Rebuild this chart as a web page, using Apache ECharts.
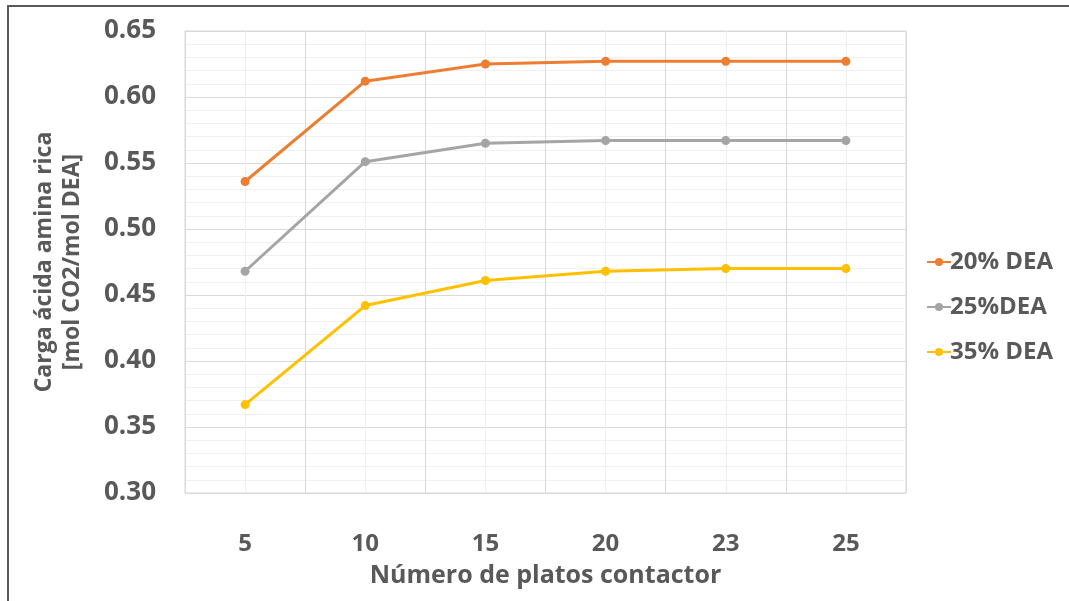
<!DOCTYPE html>
<html>
<head>
<meta charset="utf-8">
<script src="https://cdn.jsdelivr.net/npm/echarts@6/dist/echarts.min.js"></script>
<style>
  html, body { margin: 0; padding: 0; background: #ffffff; }
  #chart { width: 1069px; height: 601px; }
</style>
</head>
<body>
<div id="chart"></div>
<script>
// Number of contactor trays
const platos = ['5', '10', '15', '20', '23', '25'];

// Rich amine acid loading [mol CO2/mol DEA] per DEA concentration
const dea20 = [0.536, 0.612, 0.625, 0.627, 0.627, 0.627];
const dea25 = [0.468, 0.551, 0.565, 0.567, 0.567, 0.567];
const dea35 = [0.367, 0.442, 0.461, 0.468, 0.470, 0.470];

const seriesNames = ['20% DEA', '25%DEA', '35% DEA'];
const seriesColors = ['#ED7D31', '#A5A5A5', '#FFC000'];

const textColor = '#595959';
const fontFamily = '"Open Sans", "Noto Sans", sans-serif';

const chart = echarts.init(document.getElementById('chart'), null, { renderer: 'canvas' });

function lineSeries(name, data, color) {
  return {
    name: name,
    type: 'line',
    xAxisIndex: 0,
    yAxisIndex: 0,
    data: data,
    symbol: 'circle',
    symbolSize: 9,
    lineStyle: { color: color, width: 3 },
    itemStyle: { color: color },
    emphasis: { disabled: true },
    animation: false,
    z: 3
  };
}

chart.setOption({
  backgroundColor: '#ffffff',
  animation: false,
  textStyle: { fontFamily: fontFamily, color: textColor },
  graphic: [
    {
      type: 'rect',
      shape: { x: 8, y: 6, width: 1200, height: 800 },
      style: { fill: 'none', stroke: '#595959', lineWidth: 2 },
      silent: true,
      z: 0
    }
  ],
  grid: {
    left: 185,
    right: 163,
    top: 31,
    bottom: 108,
    show: true,
    borderColor: '#d9d9d9',
    borderWidth: 1,
    backgroundColor: 'transparent'
  },
  legend: {
    orient: 'vertical',
    left: 921,
    top: 244,
    itemGap: 19,
    itemWidth: 24,
    itemHeight: 10,
    data: seriesNames,
    textStyle: {
      fontFamily: fontFamily,
      fontSize: 24,
      fontWeight: 'bold',
      lineHeight: 26,
      color: textColor,
      padding: [0, 0, 0, -6]
    }
  },
  xAxis: [
    {
      type: 'category',
      data: platos,
      boundaryGap: true,
      name: 'Número de platos contactor',
      nameLocation: 'middle',
      nameGap: 70,
      nameTextStyle: { fontFamily: fontFamily, fontSize: 25, fontWeight: 'bold', color: textColor },
      axisLine: { show: false },
      axisTick: { show: false },
      splitLine: { show: false },
      axisLabel: { margin: 39, fontFamily: fontFamily, fontSize: 24, fontWeight: 'bold', color: textColor }
    },
    {
      // hidden helper axis that only draws the vertical grid
      type: 'value',
      min: 0,
      max: 12,
      interval: 2,
      position: 'bottom',
      axisLine: { show: false },
      axisTick: { show: false },
      axisLabel: { show: false },
      splitLine: { show: true, lineStyle: { color: '#d9d9d9', width: 1 } },
      minorTick: { show: false, splitNumber: 2 },
      minorSplitLine: { show: true, lineStyle: { color: '#efefef', width: 1 } }
    }
  ],
  yAxis: {
    type: 'value',
    min: 0.30,
    max: 0.65,
    interval: 0.05,
    name: 'Carga ácida amina rica\n[mol CO2/mol DEA]',
    nameLocation: 'middle',
    nameGap: 99,
    nameRotate: 90,
    nameTextStyle: { fontFamily: fontFamily, fontSize: 23, fontWeight: 'bold', color: textColor, lineHeight: 28 },
    axisLine: { show: false },
    axisTick: { show: false },
    axisLabel: {
      margin: 29,
      fontFamily: fontFamily,
      fontSize: 26,
      fontWeight: 'bold',
      color: textColor,
      formatter: function (v) { return v.toFixed(2); }
    },
    splitLine: { show: true, lineStyle: { color: '#d9d9d9', width: 1 } },
    minorTick: { show: false, splitNumber: 5 },
    minorSplitLine: { show: true, lineStyle: { color: '#f0f0f0', width: 1 } }
  },
  series: [
    lineSeries(seriesNames[0], dea20, seriesColors[0]),
    lineSeries(seriesNames[1], dea25, seriesColors[1]),
    lineSeries(seriesNames[2], dea35, seriesColors[2])
  ]
});
</script>
</body>
</html>
